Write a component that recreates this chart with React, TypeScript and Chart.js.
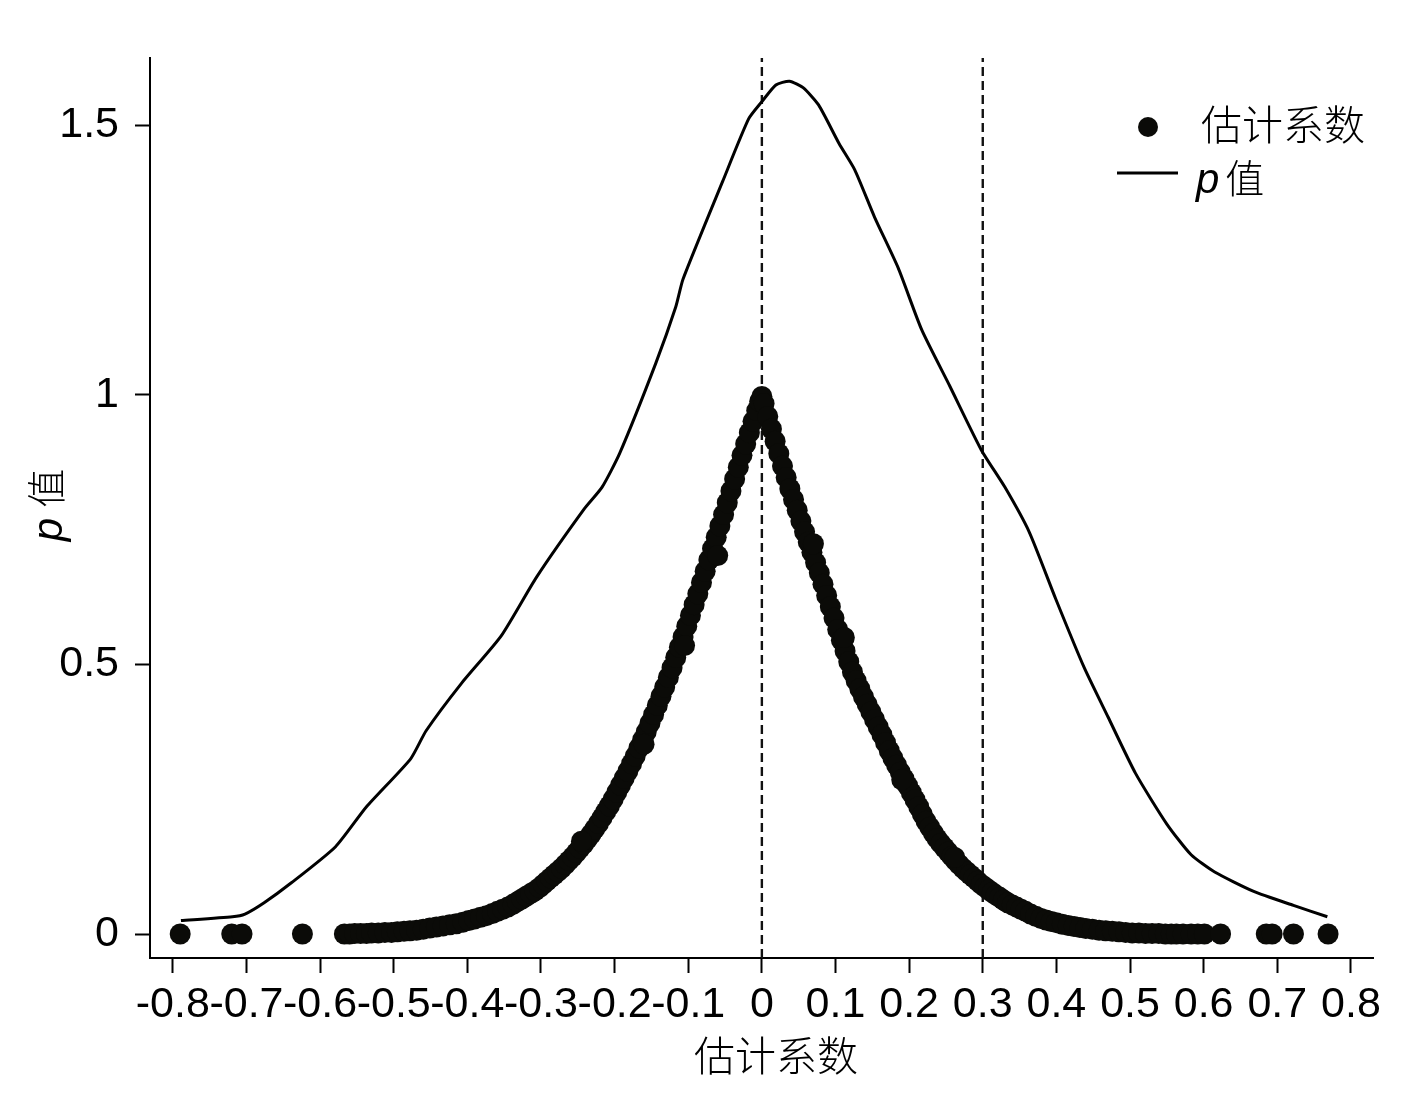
import React, { useEffect, useRef } from "react";
import { Chart, registerables } from "chart.js";

Chart.register(...registerables);

// ---------- data ----------
const xTickValues = [-0.8, -0.7, -0.6, -0.5, -0.4, -0.3, -0.2, -0.1, 0, 0.1, 0.2, 0.3, 0.4, 0.5, 0.6, 0.7, 0.8];
const yTickValues = [0, 0.5, 1, 1.5];
const referenceLines = [0, 0.3];

const xTitle = "估计系数";
const yTitleItalic = "p";
const yTitleRest = "值";
const legendScatter = "估计系数";

// estimated coefficients (x) and their p values (y)
const coefficients = [
  -0.790, -0.720, -0.706, -0.624,
  -0.567, -0.560, -0.553, -0.545, -0.537, -0.530, -0.521, -0.512, -0.503, -0.495,
  -0.486, -0.478, -0.469, -0.460, -0.451, -0.442, -0.433, -0.424, -0.415, -0.406,
  -0.398, -0.390, -0.382, -0.374, -0.366, -0.359, -0.352, -0.345, -0.338, -0.332,
  -0.326, -0.320, -0.314, -0.308, -0.302, -0.297, -0.292, -0.287, -0.282, -0.277,
  -0.272, -0.267, -0.262, -0.257, -0.252, -0.247, -0.242, -0.237, -0.232, -0.227,
  -0.222, -0.217, -0.212, -0.207, -0.202, -0.197, -0.192, -0.187, -0.182, -0.177,
  -0.172, -0.167, -0.162, -0.157, -0.152, -0.147, -0.142, -0.137, -0.132, -0.127,
  -0.122, -0.117, -0.112, -0.107, -0.102, -0.097, -0.092, -0.087, -0.082, -0.077,
  -0.072, -0.067, -0.062, -0.057, -0.052, -0.047, -0.042, -0.037, -0.032, -0.027,
  -0.022, -0.017, -0.012, -0.007, -0.003, 0.000,
  0.003, 0.008, 0.013, 0.018, 0.023, 0.028, 0.033, 0.038, 0.043, 0.048,
  0.053, 0.058, 0.063, 0.068, 0.073, 0.078, 0.083, 0.088, 0.093, 0.098,
  0.103, 0.108, 0.113, 0.118, 0.123, 0.128, 0.133, 0.138, 0.143, 0.148,
  0.153, 0.158, 0.163, 0.168, 0.173, 0.178, 0.183, 0.188, 0.193, 0.198,
  0.203, 0.208, 0.213, 0.218, 0.223, 0.228, 0.233, 0.238, 0.243, 0.248,
  0.253, 0.258, 0.263, 0.268, 0.273, 0.278, 0.283, 0.288, 0.293, 0.298,
  0.303, 0.308, 0.313, 0.318, 0.323, 0.328, 0.334, 0.340, 0.346, 0.352,
  0.358, 0.365, 0.372, 0.379, 0.386, 0.393, 0.400, 0.408, 0.416, 0.424,
  0.432, 0.440, 0.449, 0.458, 0.467, 0.476, 0.485, 0.494, 0.503, 0.512,
  0.521, 0.530, 0.539, 0.548, 0.556, 0.563, 0.572, 0.583, 0.592, 0.601,
  0.623, 0.685, 0.693, 0.722, 0.769,
  // a few estimates slightly off the main band
  -0.245, -0.160, -0.105, -0.060, 0.070, 0.112, 0.190, 0.262,
];
const pValues = [
  0.000, 0.000, 0.000, 0.000,
  0.000, 0.000, 0.001, 0.001, 0.001, 0.002, 0.002, 0.003, 0.003, 0.004,
  0.005, 0.006, 0.007, 0.009, 0.011, 0.013, 0.015, 0.017, 0.019, 0.022,
  0.025, 0.028, 0.031, 0.034, 0.038, 0.042, 0.046, 0.050, 0.055, 0.060,
  0.065, 0.070, 0.075, 0.080, 0.086, 0.092, 0.098, 0.104, 0.110, 0.116,
  0.122, 0.129, 0.136, 0.143, 0.151, 0.159, 0.167, 0.176, 0.185, 0.195,
  0.205, 0.216, 0.227, 0.238, 0.250, 0.263, 0.276, 0.289, 0.302, 0.316,
  0.330, 0.345, 0.360, 0.375, 0.391, 0.407, 0.424, 0.441, 0.458, 0.476,
  0.494, 0.513, 0.532, 0.551, 0.571, 0.591, 0.611, 0.631, 0.652, 0.673,
  0.694, 0.715, 0.736, 0.757, 0.778, 0.800, 0.822, 0.844, 0.866, 0.888,
  0.909, 0.930, 0.951, 0.971, 0.988, 0.997,
  0.984, 0.960, 0.937, 0.914, 0.891, 0.868, 0.847, 0.826, 0.806, 0.786,
  0.766, 0.746, 0.727, 0.708, 0.689, 0.670, 0.649, 0.628, 0.607, 0.586,
  0.565, 0.545, 0.525, 0.505, 0.486, 0.470, 0.455, 0.440, 0.426, 0.412,
  0.398, 0.384, 0.370, 0.355, 0.340, 0.326, 0.313, 0.300, 0.288, 0.275,
  0.262, 0.249, 0.236, 0.222, 0.209, 0.198, 0.187, 0.177, 0.168, 0.160,
  0.152, 0.144, 0.136, 0.129, 0.122, 0.116, 0.110, 0.104, 0.098, 0.092,
  0.087, 0.082, 0.077, 0.072, 0.068, 0.063, 0.058, 0.054, 0.050, 0.046,
  0.042, 0.037, 0.033, 0.029, 0.026, 0.023, 0.021, 0.018, 0.016, 0.014,
  0.012, 0.010, 0.009, 0.007, 0.006, 0.005, 0.004, 0.003, 0.002, 0.002,
  0.001, 0.001, 0.001, 0.000, 0.000, 0.000, 0.000, 0.000, 0.000, 0.000,
  0.000, 0.000, 0.000, 0.000, 0.000,
  0.172, 0.352, 0.535, 0.702, 0.724, 0.550, 0.286, 0.142,
];

// density curve of the coefficients
const densityX = [
  -0.789, -0.719, -0.702, -0.676, -0.639, -0.579, -0.537, -0.477, -0.456, -0.408,
  -0.354, -0.306, -0.241, -0.217, -0.193, -0.144, -0.117, -0.107, -0.053, -0.018,
  0.000, 0.019, 0.0375, 0.056, 0.077, 0.105, 0.126, 0.153, 0.185, 0.217,
  0.255, 0.298, 0.330, 0.363, 0.399, 0.4375, 0.470, 0.5075, 0.550, 0.583,
  0.615, 0.668, 0.722, 0.768,
];
const densityY = [
  0.025, 0.032, 0.037, 0.058, 0.095, 0.162, 0.236, 0.325, 0.377, 0.465,
  0.553, 0.662, 0.789, 0.829, 0.892, 1.059, 1.163, 1.215, 1.397, 1.512,
  1.544, 1.575, 1.582, 1.570, 1.538, 1.466, 1.418, 1.330, 1.236, 1.121,
  1.017, 0.898, 0.829, 0.746, 0.622, 0.495, 0.403, 0.298, 0.204, 0.147,
  0.115, 0.079, 0.053, 0.032,
];

const X_MIN = -0.831;
const X_MAX = 0.830;
const Y_MIN = -0.0445;
const Y_MAX = 1.625;

const NUM_FONT = '"Liberation Sans", Arial, sans-serif';
const CJK_FONT = '"Noto Sans CJK SC", "Liberation Sans", sans-serif';

const textPlugin = {
  id: "customTexts",
  afterDraw(chart: any) {
    const ctx = chart.ctx as CanvasRenderingContext2D;
    ctx.save();
    ctx.fillStyle = "#000";

    // x-axis title
    ctx.font = `300 41px ${CJK_FONT}`;
    ctx.textAlign = "center";
    ctx.textBaseline = "middle";
    ctx.fillText(xTitle, 776, 1055);

    // y-axis title (rotated): italic p + 值
    ctx.save();
    ctx.translate(46, 505);
    ctx.rotate(-Math.PI / 2);
    ctx.textAlign = "left";
    ctx.textBaseline = "middle";
    ctx.font = `italic 42px ${NUM_FONT}`;
    const pw = ctx.measureText(yTitleItalic).width;
    ctx.font = `300 39px ${CJK_FONT}`;
    const vw = ctx.measureText(yTitleRest).width;
    const gap = 10;
    const total = pw + gap + vw;
    ctx.font = `italic 42px ${NUM_FONT}`;
    ctx.fillText(yTitleItalic, -total / 2, 4);
    ctx.font = `300 39px ${CJK_FONT}`;
    ctx.fillText(yTitleRest, -total / 2 + pw + gap, 0);
    ctx.restore();

    // legend
    ctx.beginPath();
    ctx.arc(1148, 127, 10, 0, Math.PI * 2);
    ctx.fillStyle = "#0b0b08";
    ctx.fill();
    ctx.fillStyle = "#000";
    ctx.textAlign = "left";
    ctx.textBaseline = "middle";
    ctx.font = `300 41px ${CJK_FONT}`;
    ctx.fillText(legendScatter, 1201, 124);

    ctx.beginPath();
    ctx.moveTo(1117, 173);
    ctx.lineTo(1178, 173);
    ctx.lineWidth = 3;
    ctx.strokeStyle = "#000";
    ctx.stroke();
    ctx.font = `italic 42px ${NUM_FONT}`;
    ctx.fillText(yTitleItalic, 1196, 181);
    const pw2 = ctx.measureText(yTitleItalic).width;
    ctx.font = `300 39px ${CJK_FONT}`;
    ctx.fillText(yTitleRest, 1196 + pw2 + 6, 178);

    ctx.restore();
  },
};

export default function App() {
  const canvasRef = useRef<HTMLCanvasElement | null>(null);

  useEffect(() => {
    document.body.style.margin = "0";
    const canvas = canvasRef.current;
    if (!canvas) return;

    const scatterData = coefficients.map((x, i) => ({ x, y: pValues[i] }));
    const densityData = densityX.map((x, i) => ({ x, y: densityY[i] }));
    const refDatasets = referenceLines.map((v) => ({
      type: "line" as const,
      data: [
        { x: v, y: Y_MIN },
        { x: v, y: Y_MAX },
      ],
      borderColor: "#111",
      borderWidth: 2.4,
      borderDash: [9, 5],
      pointRadius: 0,
      fill: false,
      tension: 0,
    }));

    const tickFmt = (v: any) => (Math.abs(v) < 1e-9 ? "0" : String(Number(Number(v).toFixed(1))));

    const chart = new Chart(canvas, {
      type: "scatter",
      data: {
        datasets: [
          {
            type: "scatter",
            data: scatterData,
            pointRadius: 10.5,
            pointHoverRadius: 10.5,
            backgroundColor: "#0b0b08",
            borderWidth: 0,
          } as any,
          {
            type: "line",
            data: densityData,
            borderColor: "#000",
            borderWidth: 3,
            pointRadius: 0,
            fill: false,
            tension: 0.2,
          } as any,
          ...(refDatasets as any[]),
        ],
      },
      options: {
        responsive: false,
        animation: false,
        devicePixelRatio: 1,
        layout: { padding: { top: 58, right: 43, left: 0, bottom: 0 } },
        plugins: {
          legend: { display: false },
          tooltip: { enabled: false },
          title: { display: false },
        },
        scales: {
          x: {
            type: "linear",
            min: X_MIN,
            max: X_MAX,
            afterBuildTicks: (scale: any) => {
              scale.ticks = xTickValues.map((v) => ({ value: v }));
            },
            afterFit: (scale: any) => {
              scale.height = 138;
            },
            ticks: {
              autoSkip: false,
              maxRotation: 0,
              minRotation: 0,
              padding: 6,
              color: "#000",
              font: { family: NUM_FONT, size: 43 },
              callback: tickFmt,
            },
            grid: {
              drawOnChartArea: false,
              drawTicks: true,
              tickLength: 15,
              tickWidth: 2,
              tickColor: "#000",
            },
            border: { display: true, color: "#000", width: 2 },
          },
          y: {
            type: "linear",
            min: Y_MIN,
            max: Y_MAX,
            afterBuildTicks: (scale: any) => {
              scale.ticks = yTickValues.map((v) => ({ value: v }));
            },
            afterFit: (scale: any) => {
              scale.width = 150;
            },
            ticks: {
              padding: 16,
              color: "#000",
              font: { family: NUM_FONT, size: 43 },
              callback: tickFmt,
            },
            grid: {
              drawOnChartArea: false,
              drawTicks: true,
              tickLength: 15,
              tickWidth: 2,
              tickColor: "#000",
            },
            border: { display: true, color: "#000", width: 2 },
          },
        },
      } as any,
      plugins: [textPlugin],
    });

    return () => {
      chart.destroy();
    };
  }, []);

  return (
    <div style={{ width: 1416, height: 1096, background: "#fff" }}>
      <canvas ref={canvasRef} width={1416} height={1096} style={{ display: "block", width: 1416, height: 1096 }} />
    </div>
  );
}
